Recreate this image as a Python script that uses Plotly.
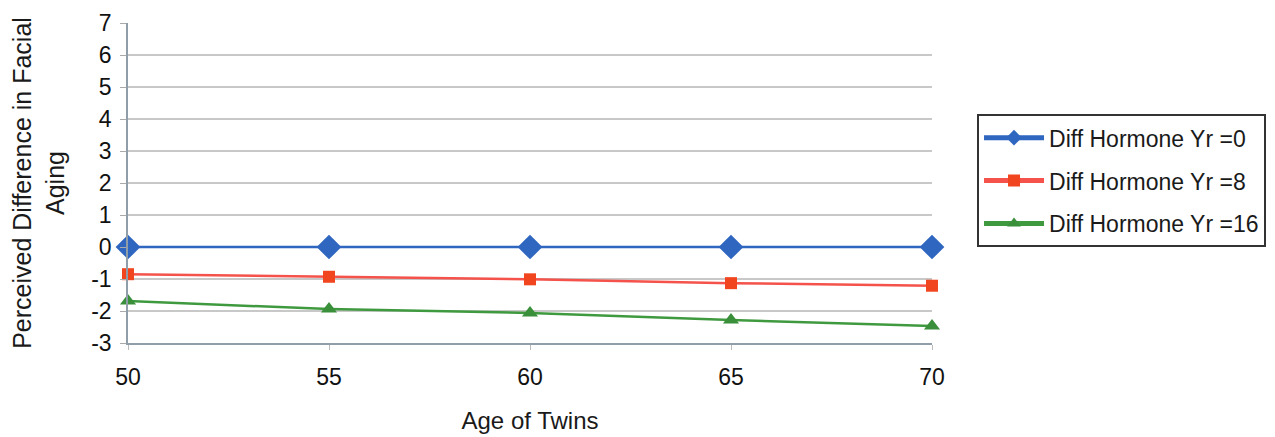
import plotly.graph_objects as go

ages = [50, 55, 60, 65, 70]
yr0 = [0, 0, 0, 0, 0]
yr8 = [-0.85, -0.93, -1.01, -1.13, -1.21]
yr16 = [-1.69, -1.94, -2.06, -2.28, -2.47]
names = ["Diff Hormone Yr =0", "Diff Hormone Yr =8", "Diff Hormone Yr =16"]
y_ticks = [-3, -2, -1, 0, 1, 2, 3, 4, 5, 6, 7]
y_tick_text = ["-3", "-2", "-1", "0", "1", "2", "3", "4", "5", "6", "7"]

FAM = "Liberation Sans, Arial, sans-serif"

fig = go.Figure()
fig.add_trace(go.Scatter(x=ages, y=yr0, name=names[0], mode="lines+markers", legendgroup="a",
                         line=dict(color="#2f66c0", width=2.5),
                         marker=dict(symbol="diamond", size=19, color="#2f66c0"),
                         cliponaxis=False))
fig.add_trace(go.Scatter(x=ages, y=yr8, name=names[1], mode="lines+markers", legendgroup="b",
                         line=dict(color="#f4524a", width=2.5),
                         marker=dict(symbol="square", size=12, color="#f0451e"),
                         cliponaxis=False))
fig.add_trace(go.Scatter(x=ages, y=yr16, name=names[2], mode="lines+markers", legendgroup="c",
                         line=dict(color="#3f9a3f", width=2.5),
                         marker=dict(symbol="triangle-up", size=14, color="#3a8f3a"),
                         cliponaxis=False))

fig.update_layout(
    width=1275, height=437,
    margin=dict(l=120, r=351, t=15, b=102),
    paper_bgcolor="white", plot_bgcolor="white",
    font=dict(family=FAM, size=22, color="#1a1a1a"),
    showlegend=True,
    legend=dict(x=1.056, y=0.715, xanchor="left", yanchor="top",
                bordercolor="#333333", borderwidth=2, bgcolor="white",
                font=dict(family=FAM, size=23, color="#1a1a1a"),
                itemsizing="constant", itemwidth=60, tracegroupgap=10),
    xaxis=dict(range=[50, 70], tickvals=ages, showgrid=False, zeroline=False,
               showline=True, linecolor="#8f9ea8", linewidth=1.5, automargin=False,
               ticks="outside", ticklen=5, tickcolor="#bbbbbb",
               tickfont=dict(family=FAM, size=23, color="#111111"), ticklabelstandoff=8,
               title=dict(text="Age of Twins", standoff=23,
                          font=dict(family=FAM, size=24, color="#1a1a1a"))),
    yaxis=dict(range=[-3, 7], tickvals=y_ticks, ticktext=y_tick_text,
               showgrid=True, gridcolor="#c8c8c8", gridwidth=1.5, automargin=False,
               zeroline=False, showline=True, linecolor="#8f9ea8", linewidth=1.5,
               ticks="outside", ticklen=6, tickcolor="#aaaaaa",
               tickfont=dict(family=FAM, size=23, color="#111111"), ticklabelstandoff=4,
               title=dict(text="Perceived Difference in Facial<br>Aging", standoff=20,
                          font=dict(family=FAM, size=25, color="#1a1a1a"))),
)

fig.write_html("out.html")
